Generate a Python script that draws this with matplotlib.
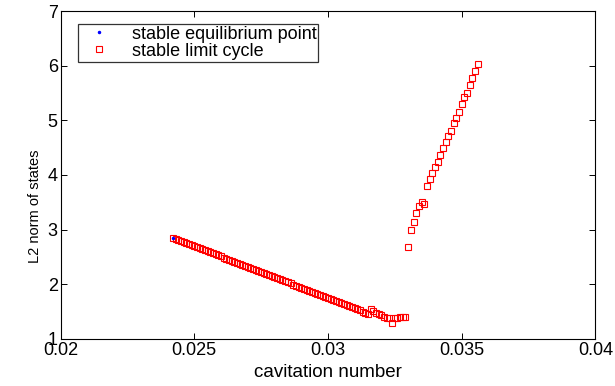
import matplotlib
matplotlib.use("Agg")
import matplotlib.pyplot as plt

plt.rcParams['font.family'] = ['Liberation Sans', 'DejaVu Sans']

# stable equilibrium point (only one visible, at the start of the branch)
eq_x = [0.0242]
eq_y = [2.85]

# stable limit cycle, lower branch
lc_low_x = [0.0242, 0.0243, 0.0244, 0.0245, 0.0246, 0.0247, 0.0248, 0.0249, 0.0250, 0.0251,
            0.0252, 0.0253, 0.0254, 0.0255, 0.0256, 0.0257, 0.0258, 0.0259, 0.0260, 0.0261,
            0.0262, 0.0263, 0.0264, 0.0265, 0.0266, 0.0267, 0.0268, 0.0269, 0.0270, 0.0271,
            0.0272, 0.0273, 0.0274, 0.0275, 0.0276, 0.0277, 0.0278, 0.0279, 0.0280, 0.0281,
            0.0282, 0.0283, 0.0284, 0.0285, 0.0286, 0.0287, 0.0288, 0.0289, 0.0290, 0.0291,
            0.0292, 0.0293, 0.0294, 0.0295, 0.0296, 0.0297, 0.0298, 0.0299, 0.0300, 0.0301,
            0.0302, 0.0303, 0.0304, 0.0305, 0.0306, 0.0307, 0.0308, 0.0309, 0.0310, 0.0311,
            0.0312, 0.0313, 0.0314, 0.0315, 0.0316, 0.0317, 0.0318, 0.0319, 0.0320, 0.0321,
            0.0322, 0.0323, 0.0324, 0.0325, 0.0326, 0.0327, 0.0328, 0.0329]
lc_low_y = [2.850, 2.831, 2.812, 2.793, 2.774, 2.755, 2.736, 2.717, 2.698, 2.679,
            2.660, 2.641, 2.622, 2.603, 2.584, 2.565, 2.546, 2.527, 2.508, 2.489,
            2.470, 2.451, 2.432, 2.413, 2.394, 2.375, 2.356, 2.337, 2.318, 2.299,
            2.280, 2.261, 2.242, 2.223, 2.204, 2.185, 2.166, 2.147, 2.128, 2.109,
            2.090, 2.071, 2.052, 2.033, 2.014, 1.995, 1.976, 1.957, 1.938, 1.919,
            1.900, 1.881, 1.862, 1.843, 1.824, 1.805, 1.786, 1.767, 1.748, 1.729,
            1.710, 1.691, 1.672, 1.653, 1.634, 1.615, 1.596, 1.577, 1.558, 1.539,
            1.520, 1.501, 1.482, 1.463, 1.549, 1.513, 1.481, 1.458, 1.434, 1.408,
            1.390, 1.379, 1.288, 1.379, 1.390, 1.398, 1.403, 1.408]

# stable limit cycle, upper branch
lc_up_x = [0.0330, 0.0331, 0.0332, 0.0333, 0.0334, 0.0335, 0.0336, 0.0337, 0.0338, 0.0339,
           0.0340, 0.0341, 0.0342, 0.0343, 0.0344, 0.0345, 0.0346, 0.0347, 0.0348, 0.0349,
           0.0350, 0.0351, 0.0352, 0.0353, 0.0354, 0.0355, 0.0356]
lc_up_y = [2.678, 2.989, 3.140, 3.300, 3.439, 3.512, 3.475, 3.804, 3.922, 4.031,
           4.147, 4.243, 4.366, 4.494, 4.604, 4.719, 4.800, 4.946, 5.037, 5.158,
           5.299, 5.427, 5.506, 5.652, 5.780, 5.902, 6.036]

xticks = [0.02, 0.025, 0.03, 0.035, 0.04]
xtick_labels = ['0.02', '0.025', '0.03', '0.035', '0.04']
yticks = [1, 2, 3, 4, 5, 6, 7]

fig = plt.figure(figsize=(6.15, 3.86), dpi=100)
ax = fig.add_axes([0.0985, 0.122, 0.8695, 0.8495])

ax.plot(lc_low_x + lc_up_x, lc_low_y + lc_up_y, 's', color='red',
        markerfacecolor='none', markersize=4.3, markeredgewidth=0.8,
        linestyle='none', label='stable limit cycle')
ax.plot(eq_x, eq_y, '.', color='blue', markersize=3,
        linestyle='none', label='stable equilibrium point')

ax.set_xlim(0.02, 0.04)
ax.set_ylim(1, 7)
ax.set_xticks(xticks)
ax.set_xticklabels(xtick_labels)
ax.set_yticks(yticks)
ax.tick_params(direction='in', top=True, right=True, length=4, width=0.7,
               labelsize=13, pad=2)
for s in ax.spines.values():
    s.set_linewidth(0.8)

ax.set_xlabel('cavitation number', fontsize=13.5, labelpad=4)
ax.set_ylabel('L2 norm of states', fontsize=10.5)
ax.yaxis.set_label_coords(-0.035, 0.405)

handles, labels = ax.get_legend_handles_labels()
leg = ax.legend(handles[::-1], labels[::-1], loc='upper left',
                bbox_to_anchor=(77.7 / 615, 1 - 24 / 386),
                bbox_transform=fig.transFigure, borderaxespad=0,
                fontsize=13, frameon=True, fancybox=False, edgecolor='black',
                borderpad=0.1, labelspacing=0.0, handlelength=2.2,
                handletextpad=0.7, markerscale=1.0)
leg.get_frame().set_linewidth(0.9)

fig.savefig('out.png', dpi=100)
